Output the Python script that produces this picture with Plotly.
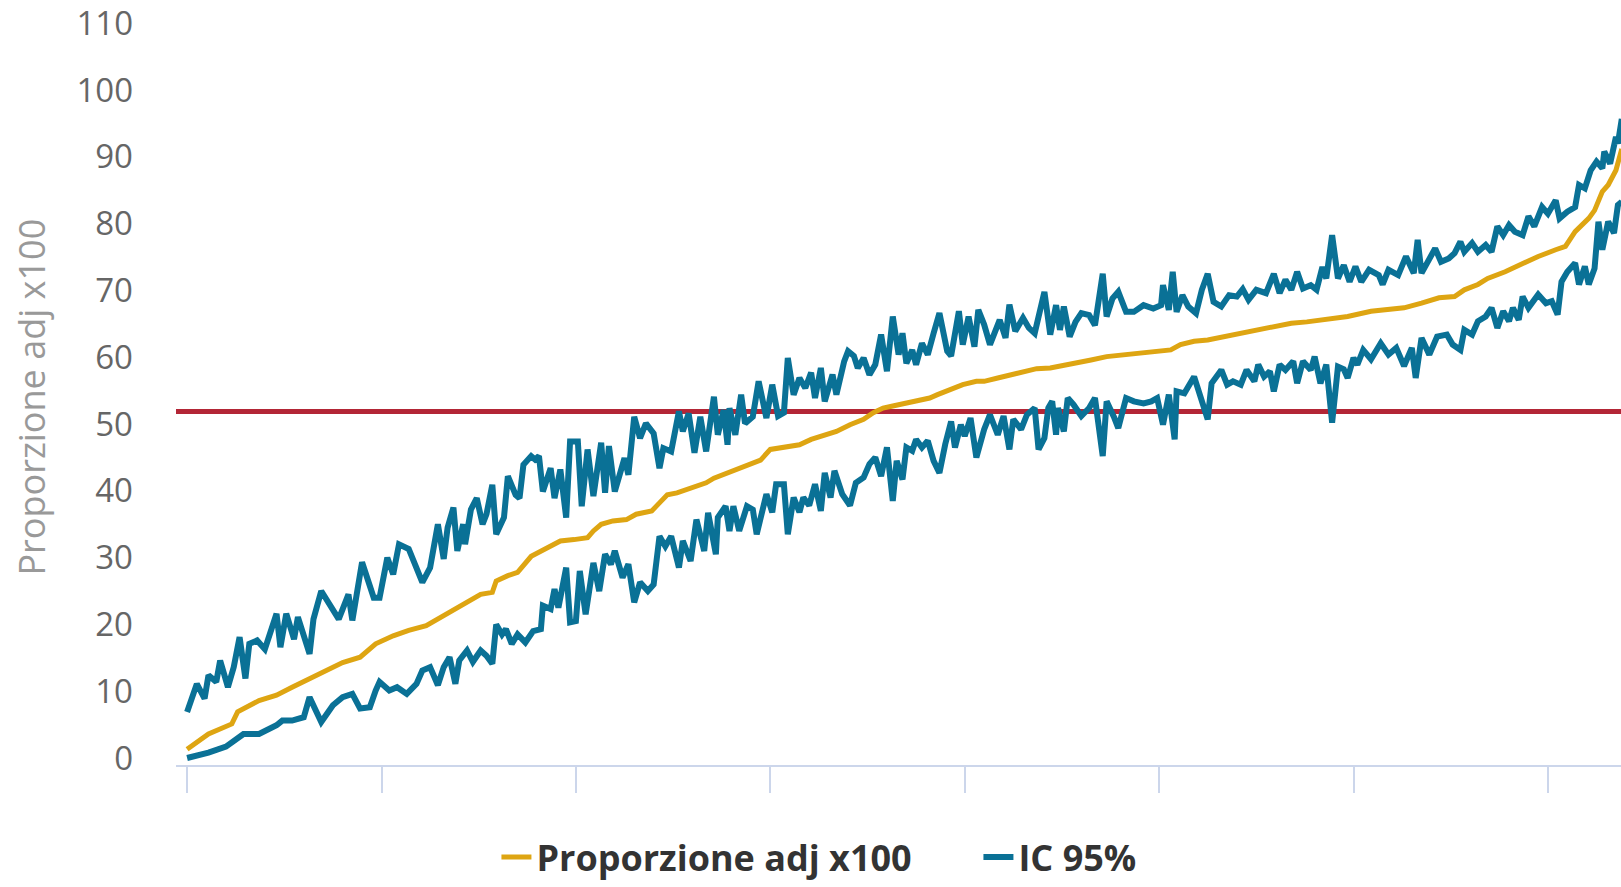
import plotly.graph_objects as go

# ---- data (x = position along the sorted units, y = value x100) ----
center_x = [0, 11, 23, 26, 37, 46, 54, 63, 72, 80,
            89, 97, 106, 114, 123, 132, 140, 146, 151, 157,
            159, 165, 170, 177, 182, 187, 192, 199, 206, 209,
            213, 219, 226, 231, 239, 243, 247, 252, 257, 262,
            267, 271, 278, 283, 288, 295, 300, 307, 315, 321,
            327, 334, 341, 348, 353, 358, 363, 370, 375, 382,
            386, 393, 399, 406, 410, 417, 424, 430, 437, 444,
            448, 456, 465, 473, 482, 490, 499, 506, 511, 518,
            525, 533, 542, 550, 559, 568, 576, 585, 593, 597,
            609, 618, 626, 635, 644, 652, 657, 664, 669, 678,
            687, 695, 704, 709, 714, 721, 724, 728, 731, 734,
            735, 738]
center_y = [1.3, 3.6, 5.1, 6.9, 8.6, 9.4, 10.6, 11.9, 13.1, 14.3,
            15.1, 17.1, 18.3, 19.1, 19.8, 21.3, 22.6, 23.8, 24.5, 24.8,
            26.5, 27.3, 27.8, 30.2, 31.0, 31.7, 32.5, 32.7, 33.0, 34.0,
            35.0, 35.5, 35.7, 36.5, 37.0, 38.2, 39.4, 39.7, 40.2, 40.7,
            41.2, 41.9, 42.7, 43.4, 43.9, 44.6, 46.2, 46.5, 46.9, 47.7,
            48.2, 48.9, 49.9, 50.7, 51.7, 52.4, 52.7, 53.2, 53.4, 53.9,
            54.4, 55.2, 55.9, 56.4, 56.4, 56.9, 57.4, 57.9, 58.3, 58.4,
            58.6, 59.1, 59.6, 60.1, 60.4, 60.6, 60.9, 61.1, 61.9, 62.4,
            62.6, 63.1, 63.6, 64.1, 64.6, 65.1, 65.3, 65.6, 65.9, 66.1,
            66.9, 67.1, 67.4, 68.1, 68.9, 69.1, 70.1, 70.9, 71.8, 72.8,
            74.1, 75.1, 76.1, 76.6, 78.8, 80.8, 82.0, 84.8, 85.8, 87.5,
            88.0, 91.2]

lower_x = [0, 11, 20, 29, 37, 46, 49, 54, 60, 63,
           69, 75, 80, 85, 89, 94, 97, 99, 104, 108,
           113, 118, 121, 125, 129, 132, 135, 138, 140, 144,
           147, 151, 154, 157, 159, 162, 164, 167, 170, 174,
           178, 182, 183, 187, 189, 191, 195, 197, 200, 202,
           205, 209, 212, 215, 218, 220, 224, 227, 230, 233,
           237, 240, 243, 246, 249, 253, 255, 259, 262, 266,
           268, 272, 273, 277, 279, 281, 284, 288, 291, 293,
           298, 301, 303, 307, 309, 312, 315, 317, 320, 323,
           326, 328, 331, 333, 337, 341, 344, 348, 351, 354,
           357, 360, 363, 365, 368, 370, 373, 375, 378, 381,
           384, 387, 390, 393, 395, 398, 400, 403, 406, 410,
           413, 417, 420, 423, 425, 429, 432, 436, 438, 441,
           443, 445, 447, 448, 451, 453, 456, 460, 464, 467,
           471, 473, 477, 479, 483, 487, 492, 496, 499, 502,
           505, 508, 509, 513, 518, 521, 525, 527, 532, 535,
           538, 542, 545, 549, 551, 554, 557, 559, 562, 565,
           569, 571, 574, 578, 580, 583, 586, 589, 592, 595,
           597, 600, 602, 605, 609, 614, 618, 622, 626, 630,
           632, 635, 639, 643, 648, 651, 655, 657, 661, 664,
           668, 671, 674, 677, 680, 682, 685, 687, 690, 695,
           699, 702, 705, 707, 710, 714, 716, 719, 721, 724,
           726, 728, 731, 734, 736, 738]
lower_y = [0.0, 0.8, 1.7, 3.6, 3.6, 4.9, 5.6, 5.6, 6.1, 9.1,
           5.4, 7.9, 9.1, 9.6, 7.4, 7.6, 10.1, 11.4, 10.1, 10.6,
           9.6, 11.1, 13.1, 13.6, 10.9, 13.6, 15.1, 11.1, 14.6, 16.1,
           14.4, 16.1, 15.3, 14.1, 20.0, 18.5, 19.3, 17.1, 18.5, 17.3,
           19.0, 19.3, 22.8, 22.3, 25.3, 22.5, 28.5, 20.3, 20.5, 28.0,
           21.5, 29.2, 25.0, 30.5, 29.0, 31.0, 27.0, 29.0, 23.3, 26.3,
           25.0, 26.0, 33.2, 31.7, 33.2, 28.5, 32.5, 29.5, 35.7, 31.0,
           36.7, 30.5, 36.0, 37.7, 34.0, 37.7, 34.0, 37.7, 37.2, 33.5,
           39.5, 36.8, 41.0, 41.0, 33.5, 39.0, 36.8, 39.0, 37.8, 41.0,
           37.0, 42.7, 39.0, 43.0, 39.5, 37.8, 41.2, 42.0, 44.0, 45.0,
           42.2, 46.5, 38.5, 44.5, 41.7, 46.5, 46.0, 47.7, 46.5, 47.5,
           44.5, 42.7, 47.0, 50.4, 46.5, 49.9, 48.2, 50.9, 45.0, 49.2,
           51.4, 48.4, 51.2, 46.2, 50.7, 49.2, 51.4, 52.4, 46.2, 47.9,
           52.4, 53.4, 48.4, 52.4, 48.9, 53.9, 52.9, 51.2, 52.4, 53.9,
           45.2, 53.4, 50.9, 49.4, 53.9, 53.4, 53.1, 53.4, 53.9, 49.9,
           54.4, 47.7, 54.9, 54.6, 57.1, 54.6, 50.7, 56.1, 58.1, 55.9,
           56.4, 55.9, 58.1, 56.4, 58.9, 57.1, 57.9, 54.9, 58.9, 58.1,
           59.4, 56.1, 59.4, 58.1, 60.1, 56.1, 58.9, 50.2, 58.6, 58.2,
           56.9, 59.9, 58.9, 61.1, 59.7, 62.1, 60.4, 61.4, 58.7, 61.4,
           56.9, 62.9, 60.4, 63.1, 63.4, 61.9, 61.1, 64.1, 63.4, 65.4,
           66.1, 67.4, 64.4, 66.9, 65.4, 67.4, 65.6, 69.1, 67.4, 69.4,
           68.1, 68.4, 66.4, 71.3, 72.8, 74.1, 70.9, 73.6, 70.9, 73.3,
           80.3, 76.1, 80.3, 78.6, 82.8, 83.3]

upper_x = [0, 5, 9, 11, 15, 17, 21, 24, 27, 30,
           32, 36, 40, 42, 46, 48, 51, 55, 57, 63,
           65, 69, 73, 78, 83, 85, 90, 96, 99, 103,
           106, 109, 114, 121, 125, 129, 132, 134, 137, 139,
           142, 143, 146, 149, 152, 154, 157, 159, 163, 165,
           169, 171, 173, 177, 179, 181, 183, 187, 189, 192,
           195, 197, 201, 203, 206, 209, 213, 215, 217, 220,
           225, 227, 230, 233, 236, 240, 243, 245, 249, 253,
           255, 258, 261, 264, 267, 271, 273, 276, 278, 279,
           282, 285, 287, 291, 294, 296, 298, 301, 304, 307,
           309, 312, 315, 318, 321, 323, 326, 328, 332, 334,
           338, 340, 343, 345, 348, 351, 354, 357, 360, 363,
           366, 368, 370, 373, 375, 378, 381, 384, 387, 391,
           393, 397, 399, 402, 405, 407, 410, 413, 418, 421,
           423, 426, 430, 433, 436, 441, 444, 447, 449, 451,
           454, 457, 460, 464, 467, 471, 473, 476, 479, 483,
           487, 492, 497, 501, 502, 505, 507, 509, 512, 515,
           519, 522, 525, 528, 532, 536, 540, 543, 546, 550,
           555, 559, 562, 565, 568, 571, 574, 578, 581, 584,
           586, 589, 592, 595, 598, 601, 604, 608, 613, 615,
           618, 623, 627, 631, 633, 635, 638, 642, 645, 649,
           652, 655, 657, 661, 664, 668, 671, 674, 677, 680,
           683, 687, 690, 693, 697, 700, 704, 706, 710, 714,
           716, 719, 722, 725, 728, 729, 732, 735, 736, 738]
upper_y = [6.9, 11.1, 8.9, 12.4, 11.4, 14.6, 10.6, 13.6, 18.1, 11.9,
           17.1, 17.6, 16.3, 18.1, 21.6, 16.6, 21.6, 17.8, 21.1, 15.6,
           20.8, 25.0, 23.1, 20.8, 24.5, 20.6, 29.3, 24.0, 24.0, 30.0,
           27.5, 32.0, 31.3, 26.3, 28.5, 35.0, 29.8, 34.5, 37.5, 31.0,
           35.0, 32.0, 37.2, 38.9, 35.0, 36.5, 40.9, 33.5, 36.0, 42.2,
           39.4, 38.9, 43.9, 45.2, 44.7, 45.2, 39.9, 43.4, 38.9, 43.2,
           36.0, 47.4, 47.4, 37.7, 46.2, 39.2, 47.2, 39.7, 46.7, 39.9,
           44.9, 42.4, 51.1, 47.9, 50.1, 48.6, 43.4, 46.4, 45.9, 51.9,
           48.9, 51.6, 45.7, 51.1, 45.9, 54.1, 48.4, 52.1, 46.9, 52.4,
           48.4, 54.4, 50.1, 51.1, 56.4, 53.4, 50.9, 55.9, 51.2, 51.7,
           59.9, 54.4, 56.9, 55.4, 57.7, 53.9, 58.4, 53.4, 57.4, 54.4,
           59.4, 60.9, 60.2, 58.4, 59.9, 57.4, 58.9, 63.4, 57.9, 66.1,
           60.4, 63.6, 59.1, 61.1, 58.9, 62.1, 60.4, 63.6, 66.6, 60.9,
           60.2, 66.9, 61.9, 66.1, 61.6, 67.1, 64.9, 61.9, 65.6, 62.9,
           67.9, 63.9, 65.9, 64.4, 63.6, 69.8, 63.4, 67.8, 64.1, 67.6,
           63.1, 65.3, 66.6, 66.3, 64.8, 72.5, 66.1, 68.8, 69.8, 66.8,
           66.8, 67.8, 67.3, 67.8, 70.8, 67.1, 72.8, 66.8, 69.3, 67.6,
           66.6, 70.1, 72.5, 68.3, 67.6, 69.3, 69.1, 70.2, 68.6, 70.1,
           69.6, 72.5, 69.6, 71.6, 70.1, 72.8, 70.3, 70.8, 70.1, 73.5,
           71.8, 78.3, 71.8, 73.8, 71.3, 73.6, 71.3, 73.1, 72.3, 70.9,
           73.1, 72.3, 75.1, 72.6, 77.6, 72.6, 74.1, 76.3, 74.3, 74.8,
           75.6, 77.3, 75.8, 77.1, 75.8, 76.8, 75.8, 79.6, 78.3, 79.8,
           78.8, 78.3, 81.1, 79.6, 82.5, 81.5, 83.5, 80.8, 81.8, 82.5,
           85.8, 85.3, 88.0, 89.3, 88.3, 90.8, 89.0, 93.0, 92.0, 95.7]

reference_value = 51.9
y_ticks = [0, 10, 20, 30, 40, 50, 60, 70, 80, 90, 100, 110]
x_ticks = [0, 100, 200, 300, 400, 500, 600, 700]
y_title = "Proporzione adj x100"

assert len(center_x) == len(center_y)
assert len(lower_x) == len(lower_y)
assert len(upper_x) == len(upper_y)

GOLD = "#dea512"
BLUE = "#0a7196"
RED = "#b32636"
AXIS = "#ccd6eb"
FONT = "Open Sans, Liberation Sans, sans-serif"

fig = go.Figure()
fig.add_trace(go.Scatter(x=center_x, y=center_y, mode="lines",
                         name="Proporzione adj x100",
                         line=dict(color=GOLD, width=5)))
fig.add_trace(go.Scatter(x=upper_x, y=upper_y, mode="lines", name="IC 95%",
                         legendgroup="ic", line=dict(color=BLUE, width=6)))
fig.add_trace(go.Scatter(x=lower_x, y=lower_y, mode="lines", name="IC 95%",
                         legendgroup="ic", showlegend=False,
                         line=dict(color=BLUE, width=6)))

fig.add_shape(type="line", xref="paper", x0=0, x1=1, yref="y",
              y0=reference_value, y1=reference_value,
              line=dict(color=RED, width=5), layer="below")

fig.add_annotation(text=y_title, textangle=-90, showarrow=False,
                   xref="paper", yref="paper", x=-0.1003, y=0.4868,
                   xanchor="center", yanchor="middle",
                   font=dict(family=FONT, size=36, color="#999999"))

fig.update_layout(
    width=1621, height=887,
    margin=dict(l=176, r=0, t=7, b=122),
    paper_bgcolor="white", plot_bgcolor="white",
    showlegend=True,
    legend=dict(orientation="h", xref="container", yref="container",
                x=0.6036, xanchor="center", y=0.0, yanchor="bottom",
                entrywidth=437, entrywidthmode="pixels",
                font=dict(family=FONT, size=36, color="#333333", weight="bold")),
    xaxis=dict(range=[-5.71, 737.6], tickvals=x_ticks, showticklabels=False,
               ticks="outside", ticklen=26, tickwidth=2, tickcolor=AXIS,
               showline=True, linecolor=AXIS, linewidth=2,
               showgrid=False, zeroline=False),
    yaxis=dict(range=[-1.05, 112], tickvals=y_ticks,
               tickfont=dict(family=FONT, size=33, color="#666666"),
               ticks="", ticklabelstandoff=42, ticklabeloverflow="allow",
               showgrid=False, zeroline=False, showline=False),
)

fig.write_html("out.html", config={"displayModeBar": False},
               post_script="document.body.style.margin='0';")
